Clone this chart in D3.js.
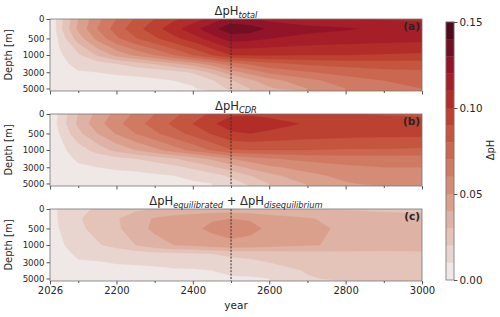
<!DOCTYPE html>
<html>
<head>
<meta charset="utf-8">
<script src="https://cdn.jsdelivr.net/npm/d3@7"></script>
<style>
  body { margin: 0; background: #fff; }
  text { font-family: "DejaVu Sans", sans-serif; fill: #262626; }
</style>
</head>
<body>
<div id="chart"></div>
<script>
// grid the fields were read on
const years = [2026, 2050, 2100, 2150, 2200, 2250, 2300, 2350, 2400, 2450, 2500, 2550, 2600, 2700, 2800, 2900, 3000];
const depths = [0, 250, 500, 1000, 2000, 3000, 4000, 5000];

// delta pH, one row per depth
const dpTotal = [
  [0, 0.015, 0.040, 0.057, 0.070, 0.081, 0.090, 0.098, 0.105, 0.113, 0.124, 0.121, 0.117, 0.113, 0.110, 0.109, 0.108],
  [0, 0.016, 0.042, 0.060, 0.075, 0.086, 0.096, 0.106, 0.116, 0.127, 0.136, 0.135, 0.128, 0.123, 0.121, 0.118, 0.115],
  [0, 0.012, 0.035, 0.053, 0.068, 0.079, 0.088, 0.097, 0.105, 0.115, 0.125, 0.123, 0.120, 0.117, 0.115, 0.114, 0.113],
  [0, 0.008, 0.018, 0.031, 0.043, 0.052, 0.060, 0.070, 0.080, 0.090, 0.100, 0.101, 0.101, 0.100, 0.100, 0.099, 0.098],
  [0, 0.008, 0.012, 0.016, 0.020, 0.025, 0.031, 0.038, 0.045, 0.055, 0.066, 0.072, 0.077, 0.082, 0.084, 0.085, 0.085],
  [0, 0.007, 0.0095, 0.010, 0.011, 0.012, 0.013, 0.016, 0.021, 0.032, 0.045, 0.054, 0.062, 0.069, 0.074, 0.077, 0.078],
  [0, 0.004, 0.006, 0.007, 0.008, 0.008, 0.009, 0.010, 0.012, 0.019, 0.029, 0.038, 0.046, 0.057, 0.065, 0.070, 0.073],
  [0, 0.002, 0.004, 0.005, 0.005, 0.006, 0.006, 0.007, 0.009, 0.014, 0.022, 0.030, 0.038, 0.050, 0.060, 0.066, 0.070]
];
const dpCDR = [
  [0, 0.012, 0.030, 0.043, 0.053, 0.062, 0.070, 0.077, 0.085, 0.092, 0.098, 0.098, 0.097, 0.093, 0.091, 0.089, 0.088],
  [0, 0.013, 0.032, 0.046, 0.057, 0.066, 0.074, 0.082, 0.090, 0.098, 0.106, 0.108, 0.104, 0.099, 0.097, 0.096, 0.094],
  [0, 0.010, 0.027, 0.040, 0.051, 0.060, 0.068, 0.076, 0.083, 0.091, 0.098, 0.100, 0.098, 0.095, 0.094, 0.093, 0.093],
  [0, 0.007, 0.015, 0.024, 0.033, 0.040, 0.047, 0.055, 0.063, 0.071, 0.079, 0.080, 0.080, 0.080, 0.079, 0.079, 0.078],
  [0, 0.007, 0.011, 0.014, 0.017, 0.020, 0.024, 0.029, 0.035, 0.042, 0.050, 0.055, 0.059, 0.063, 0.065, 0.065, 0.065],
  [0, 0.006, 0.009, 0.010, 0.011, 0.012, 0.014, 0.017, 0.022, 0.028, 0.035, 0.042, 0.048, 0.054, 0.058, 0.060, 0.060],
  [0, 0.003, 0.006, 0.007, 0.008, 0.008, 0.009, 0.010, 0.012, 0.016, 0.022, 0.030, 0.037, 0.047, 0.053, 0.056, 0.057],
  [0, 0.002, 0.004, 0.005, 0.005, 0.006, 0.007, 0.008, 0.009, 0.010, 0.015, 0.022, 0.030, 0.041, 0.049, 0.053, 0.055]
];
const dpEqDiseq = [
  [0, 0.012, 0.018, 0.021, 0.025, 0.028, 0.030, 0.032, 0.033, 0.034, 0.034, 0.032, 0.030, 0.029, 0.029, 0.028, 0.028],
  [0, 0.012, 0.019, 0.024, 0.029, 0.035, 0.041, 0.044, 0.046, 0.049, 0.050, 0.049, 0.046, 0.041, 0.036, 0.034, 0.033],
  [0, 0.010, 0.018, 0.023, 0.028, 0.036, 0.042, 0.045, 0.048, 0.052, 0.055, 0.053, 0.048, 0.043, 0.038, 0.036, 0.035],
  [0, 0.008, 0.015, 0.019, 0.023, 0.030, 0.036, 0.040, 0.042, 0.045, 0.047, 0.046, 0.044, 0.041, 0.038, 0.036, 0.035],
  [0, 0.006, 0.012, 0.013, 0.014, 0.015, 0.017, 0.018, 0.019, 0.020, 0.022, 0.023, 0.024, 0.026, 0.027, 0.027, 0.028],
  [0, 0.005, 0.009, 0.0095, 0.0105, 0.011, 0.012, 0.013, 0.014, 0.015, 0.017, 0.018, 0.020, 0.023, 0.025, 0.026, 0.026],
  [0, 0.004, 0.007, 0.008, 0.008, 0.008, 0.008, 0.009, 0.009, 0.010, 0.012, 0.013, 0.014, 0.021, 0.023, 0.024, 0.025],
  [0, 0.003, 0.005, 0.006, 0.006, 0.006, 0.006, 0.007, 0.007, 0.008, 0.009, 0.009, 0.010, 0.019, 0.022, 0.023, 0.024]
];

const levels = d3.range(16).map(i => i * 0.01);
const depthTicks = [0, 500, 1000, 3000, 5000];
const yearTicks = [2026, 2200, 2400, 2600, 2800, 3000];
const yearMinor = [2100, 2300, 2500, 2700, 2900];
const cbarTicks = [0, 0.05, 0.10, 0.15];
const splitYear = 2500;

const panels = [
  {data: dpTotal, main: "ΔpH", sub: "total", tag: "(a)", top: 19},
  {data: dpCDR, main: "ΔpH", sub: "CDR", tag: "(b)", top: 114},
  {data: dpEqDiseq, main: "ΔpH", sub: "equilibrated", main2: " + ΔpH", sub2: "disequilibrium", tag: "(c)", top: 209}
];

const W = 500, H = 317;
const left = 50, right = 422, ph = 72;

// band colours of the amp-like colormap, lowest band first
const bandColors = ["#f0e8e6", "#e9d5cf", "#e4c3b9", "#deb2a5", "#daa08c", "#d58c76", "#d07a64", "#cb6750",
  "#c4553e", "#bc4130", "#b22d28", "#a51e28", "#911428", "#730f23", "#500a19"];
const bandColor = i => bandColors[i];

const svg = d3.select("#chart").append("svg")
  .attr("width", W).attr("height", H);

const x = d3.scaleLinear().domain([2026, 3000]).range([left, right]);

const nx = years.length, ny = depths.length;
// contour grid coordinate -> year / depth
const colToYear = d3.scaleLinear()
  .domain([0].concat(d3.range(nx).map(i => i + 0.5), [nx]))
  .range([years[0]].concat(years, [years[nx - 1]]));
const rowToDepth = d3.scaleLinear()
  .domain([0].concat(d3.range(ny).map(i => i + 0.5), [ny]))
  .range([0].concat(depths, [5300]));

panels.forEach((p, k) => {
  const y = d3.scaleLinear()
    .domain([0, 500, 1000, 3000, 5000, 5300])
    .range([p.top, p.top + 0.27 * ph, p.top + 0.5 * ph, p.top + 0.74 * ph, p.top + 0.965 * ph, p.top + ph]);

  const g = svg.append("g");
  g.append("clipPath").attr("id", "clip" + k)
    .append("rect").attr("x", left).attr("y", p.top)
    .attr("width", right - left).attr("height", ph);

  const flat = [].concat(...p.data);
  const contours = d3.contours().size([nx, ny]).thresholds(levels.slice(0, 15))(flat);

  const proj = d3.geoTransform({
    point: function(cx, cy) { this.stream.point(x(colToYear(cx)), y(rowToDepth(cy))); }
  });
  const path = d3.geoPath(proj);

  const field = g.append("g").attr("clip-path", "url(#clip" + k + ")");
  field.append("rect").attr("x", left).attr("y", p.top)
    .attr("width", right - left).attr("height", ph).attr("fill", bandColor(0));
  field.selectAll("path").data(contours).join("path")
    .attr("d", path)
    .attr("fill", (d, i) => bandColor(i))
    .attr("stroke", (d, i) => bandColor(i))
    .attr("stroke-width", 0.3);

  // dotted line at 2500
  g.append("line")
    .attr("x1", x(splitYear)).attr("x2", x(splitYear))
    .attr("y1", p.top).attr("y2", p.top + ph)
    .attr("stroke", "#3d2b2b").attr("stroke-width", 1)
    .attr("stroke-dasharray", "2,1.4");

  g.append("rect").attr("x", left).attr("y", p.top)
    .attr("width", right - left).attr("height", ph)
    .attr("fill", "none").attr("stroke", "#777").attr("stroke-width", 0.8);

  // y axis
  const ya = g.append("g").attr("transform", `translate(${left},0)`)
    .call(d3.axisLeft(y).tickValues(depthTicks).tickSize(3.5).tickPadding(2).tickFormat(d3.format("d")));
  ya.select(".domain").remove();
  ya.selectAll("line").attr("stroke", "#555");
  ya.selectAll("text").style("font-size", "8.6px").attr("fill", "#262626");

  g.append("text")
    .attr("transform", `translate(12,${p.top + ph / 2}) rotate(-90)`)
    .attr("text-anchor", "middle")
    .style("font-size", "10px")
    .text("Depth [m]");

  // x axis
  const xa = g.append("g").attr("transform", `translate(0,${p.top + ph})`)
    .call(d3.axisBottom(x).tickValues(yearTicks).tickSize(3.5).tickPadding(2).tickFormat(d3.format("d")));
  xa.select(".domain").remove();
  xa.selectAll("line").attr("stroke", "#555");
  xa.selectAll("text").style("font-size", "10px").attr("fill", "#262626");
  if (k < 2) xa.selectAll("text").remove();
  const xm = g.append("g").attr("transform", `translate(0,${p.top + ph})`)
    .call(d3.axisBottom(x).tickValues(yearMinor).tickSize(2).tickFormat(""));
  xm.select(".domain").remove();
  xm.selectAll("line").attr("stroke", "#555");

  // title
  const t = g.append("text")
    .attr("x", 236).attr("y", p.top - 4)
    .attr("text-anchor", "middle")
    .style("font-size", "11.5px");
  t.append("tspan").text(p.main);
  t.append("tspan").attr("dy", 2.5).style("font-size", "8.3px").style("font-style", "italic").text(p.sub);
  if (p.main2) {
    t.append("tspan").attr("dy", -2.5).text(p.main2);
    t.append("tspan").attr("dy", 2.5).style("font-size", "8.3px").style("font-style", "italic").text(p.sub2);
  }

  g.append("text")
    .attr("x", right - 2).attr("y", p.top + 11)
    .attr("text-anchor", "end")
    .style("font-size", "10.5px").style("font-weight", "bold")
    .text(p.tag);
});

svg.append("text")
  .attr("x", 236).attr("y", 309)
  .attr("text-anchor", "middle")
  .style("font-size", "10.5px")
  .text("year");

// colorbar
const cb = d3.scaleLinear().domain([0, 0.15]).range([280, 22]);
const cbx = 446, cbw = 8;
svg.append("g").selectAll("rect").data(d3.range(15)).join("rect")
  .attr("x", cbx).attr("width", cbw)
  .attr("y", i => cb(levels[i + 1]))
  .attr("height", i => cb(levels[i]) - cb(levels[i + 1]))
  .attr("fill", i => bandColor(i))
  .attr("stroke", i => bandColor(i)).attr("stroke-width", 0.3);
svg.append("rect").attr("x", cbx).attr("y", 22).attr("width", cbw).attr("height", 258)
  .attr("fill", "none").attr("stroke", "#777").attr("stroke-width", 0.8);
const ca = svg.append("g").attr("transform", `translate(${cbx + cbw},0)`)
  .call(d3.axisRight(cb).tickValues(cbarTicks).tickSize(3.5).tickPadding(2).tickFormat(d3.format(".2f")));
ca.select(".domain").remove();
ca.selectAll("line").attr("stroke", "#555");
ca.selectAll("text").style("font-size", "10.3px").attr("fill", "#262626");

svg.append("text")
  .attr("transform", "translate(494,150) rotate(-90)")
  .attr("text-anchor", "middle")
  .style("font-size", "10px")
  .text("ΔpH");
</script>
</body>
</html>
